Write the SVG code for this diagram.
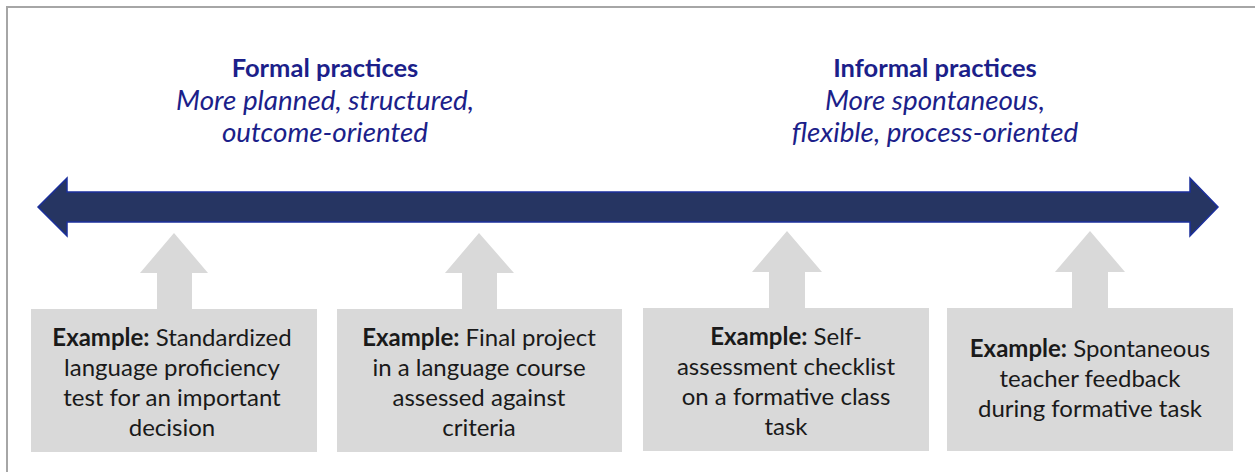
<svg xmlns="http://www.w3.org/2000/svg" width="1255" height="472" viewBox="0 0 1255 472">
  <style>
    .frame { fill: none; stroke: #a6a6a6; stroke-width: 2; }
    .scale { fill: #263562; stroke: #1b2f9c; stroke-width: 1.5; stroke-linejoin: miter; }
    .pointer { fill: #d9d9d9; }
    .box { fill: #d9d9d9; }
    .head { font-family: Lato, "Liberation Sans", sans-serif; font-size: 25.5px; font-weight: bold; fill: #1c1f8a; text-anchor: middle; }
    .sub { font-family: Lato, "Liberation Sans", sans-serif; font-size: 27.8px; font-style: italic; fill: #1c1f8a; text-anchor: middle; }
    .label { font-family: Lato, "Liberation Sans", sans-serif; font-size: 24px; fill: #1a1a1a; text-anchor: middle; }
    .label tspan.b { font-weight: bold; }
  </style>

  <!-- outer frame (open on the right and bottom edges) -->
  <path class="frame" d="M7,480 V7 H1262"/>

  <!-- headings -->
  <g id="formal">
    <text class="head" x="325" y="77">Formal practices</text>
    <text class="sub" x="325" y="110">More planned, structured,</text>
    <text class="sub" x="325" y="142">outcome-oriented</text>
  </g>
  <g id="informal">
    <text class="head" x="935" y="77">Informal practices</text>
    <text class="sub" x="935" y="110">More spontaneous,</text>
    <text class="sub" x="935" y="142">flexible, process-oriented</text>
  </g>

  <!-- double-headed continuum arrow -->
  <g id="scale">
    <polygon class="scale" points="38,207 67,178 67,192 1190,192 1190,178 1218,207 1190,236 1190,222 67,222 67,236"/>
  </g>

  <!-- upward pointers from each example to the continuum -->
  <g id="connectors">
    <polygon class="pointer" points="174,233 208,273 192,273 192,310 157,310 157,273 140,273"/>
    <polygon class="pointer" points="479,233 514,273 497,273 497,310 462,310 462,273 445,273"/>
    <polygon class="pointer" points="787,231 822,272 805,272 805,309 769,309 769,272 752,272"/>
    <polygon class="pointer" points="1090,231 1125,272 1108,272 1108,309 1072,309 1072,272 1055,272"/>
  </g>

  <g id="example1">
    <rect class="box" x="31" y="309" width="286" height="143"/>
    <text class="label" x="172" y="346"><tspan class="b">Example:</tspan> Standardized</text>
    <text class="label" x="172" y="376">language proficiency</text>
    <text class="label" x="172" y="406">test for an important</text>
    <text class="label" x="172" y="436">decision</text>
  </g>

  <g id="example2">
    <rect class="box" x="337" y="309" width="285" height="143"/>
    <text class="label" x="479" y="346"><tspan class="b">Example:</tspan> Final project</text>
    <text class="label" x="479" y="376">in a language course</text>
    <text class="label" x="479" y="406">assessed against</text>
    <text class="label" x="479" y="436">criteria</text>
  </g>

  <g id="example3">
    <rect class="box" x="643" y="308" width="286" height="143"/>
    <text class="label" x="786" y="345"><tspan class="b">Example:</tspan> Self-</text>
    <text class="label" x="786" y="375">assessment checklist</text>
    <text class="label" x="786" y="405">on a formative class</text>
    <text class="label" x="786" y="435">task</text>
  </g>

  <g id="example4">
    <rect class="box" x="947" y="308" width="286" height="143"/>
    <text class="label" x="1090" y="357"><tspan class="b">Example:</tspan> Spontaneous</text>
    <text class="label" x="1090" y="387">teacher feedback</text>
    <text class="label" x="1090" y="417">during formative task</text>
  </g>
</svg>
